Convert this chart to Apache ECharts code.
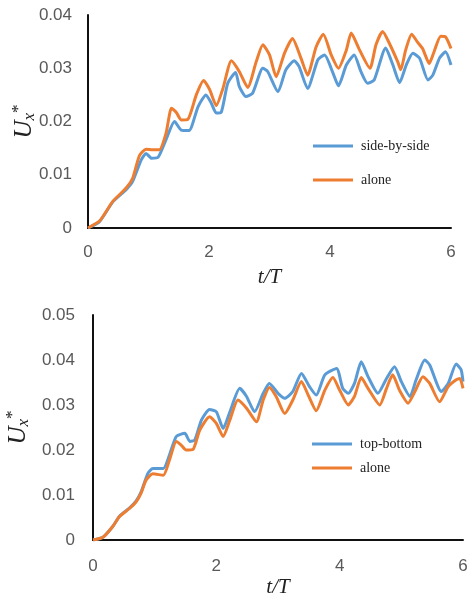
<!DOCTYPE html>
<html>
<head>
<meta charset="utf-8">
<script src="https://cdn.jsdelivr.net/npm/echarts@6/dist/echarts.min.js"></script>
<style>
  html, body { margin: 0; padding: 0; background: #fff; }
  #chart { width: 472px; height: 601px; }
</style>
</head>
<body>
<div id="chart"></div>
<script>
// top panel: side-by-side vs alone
var tTopBlue = [0, 0.19, 0.41, 0.63, 0.74, 0.88, 0.96, 1.05, 1.16, 1.29, 1.43, 1.54, 1.67, 1.82, 1.95, 2.04, 2.12, 2.20, 2.31, 2.44, 2.50, 2.61, 2.72, 2.89, 2.97, 3.14, 3.27, 3.41, 3.49, 3.63, 3.80, 3.91, 4.05, 4.14, 4.27, 4.40, 4.51, 4.62, 4.73, 4.92, 5.04, 5.15, 5.26, 5.37, 5.48, 5.62, 5.70, 5.81, 5.91, 6.0];
var uTopBlue = [0, 0.0012, 0.0049, 0.0072, 0.0088, 0.0128, 0.0140, 0.0131, 0.0133, 0.0166, 0.0200, 0.0184, 0.0183, 0.0228, 0.0250, 0.0234, 0.0216, 0.0217, 0.0272, 0.0292, 0.0266, 0.0247, 0.0253, 0.0300, 0.0294, 0.0256, 0.0297, 0.0314, 0.0303, 0.0262, 0.0316, 0.0325, 0.0291, 0.0267, 0.0306, 0.0325, 0.0294, 0.0272, 0.0278, 0.0338, 0.0306, 0.0273, 0.0306, 0.0328, 0.0319, 0.0278, 0.0287, 0.0319, 0.0331, 0.0306];
var tTopOrange = [0, 0.19, 0.41, 0.63, 0.74, 0.85, 0.96, 1.07, 1.18, 1.29, 1.38, 1.46, 1.54, 1.65, 1.79, 1.91, 2.01, 2.12, 2.23, 2.37, 2.50, 2.64, 2.78, 2.89, 3.0, 3.11, 3.25, 3.38, 3.52, 3.63, 3.77, 3.89, 4.02, 4.14, 4.27, 4.35, 4.49, 4.66, 4.76, 4.87, 4.98, 5.12, 5.17, 5.25, 5.35, 5.44, 5.53, 5.64, 5.72, 5.83, 5.91, 6.0];
var uTopOrange = [0, 0.0013, 0.0050, 0.0075, 0.0094, 0.0136, 0.0148, 0.0147, 0.0147, 0.0178, 0.0225, 0.0217, 0.0203, 0.0204, 0.0250, 0.0277, 0.0260, 0.0230, 0.0262, 0.0314, 0.0294, 0.0264, 0.0312, 0.0344, 0.0325, 0.0284, 0.0329, 0.0356, 0.0319, 0.0287, 0.0340, 0.0364, 0.0325, 0.0300, 0.0334, 0.0366, 0.0334, 0.0300, 0.0344, 0.0369, 0.0347, 0.0312, 0.0297, 0.0334, 0.0364, 0.0350, 0.0337, 0.0309, 0.0331, 0.0360, 0.0359, 0.0337];

// bottom panel: top-bottom vs alone
var tBotBlue = [0, 0.16, 0.32, 0.43, 0.59, 0.70, 0.78, 0.89, 0.97, 1.14, 1.24, 1.35, 1.49, 1.57, 1.65, 1.76, 1.89, 2.0, 2.11, 2.22, 2.38, 2.49, 2.62, 2.76, 2.86, 3.0, 3.11, 3.24, 3.38, 3.51, 3.62, 3.76, 3.95, 4.05, 4.14, 4.24, 4.35, 4.46, 4.62, 4.76, 4.89, 5.0, 5.14, 5.24, 5.38, 5.46, 5.65, 5.76, 5.89, 5.97, 6.0];
var uBotBlue = [0, 0.0006, 0.0030, 0.0053, 0.0071, 0.0087, 0.0107, 0.0148, 0.0159, 0.0159, 0.0189, 0.0230, 0.0237, 0.0219, 0.0222, 0.0267, 0.0290, 0.0285, 0.0248, 0.0285, 0.0337, 0.0319, 0.0285, 0.0326, 0.0348, 0.0326, 0.0315, 0.0330, 0.0370, 0.0341, 0.0322, 0.0367, 0.0381, 0.0337, 0.0326, 0.0348, 0.0396, 0.0363, 0.0326, 0.0359, 0.0385, 0.0352, 0.0319, 0.0356, 0.0400, 0.0389, 0.0330, 0.0348, 0.0391, 0.0378, 0.0352];
var tBotOrange = [0, 0.16, 0.32, 0.43, 0.59, 0.70, 0.78, 0.86, 0.97, 1.14, 1.24, 1.35, 1.43, 1.51, 1.62, 1.73, 1.89, 2.0, 2.11, 2.22, 2.35, 2.49, 2.65, 2.76, 2.86, 2.97, 3.11, 3.24, 3.38, 3.49, 3.62, 3.76, 3.89, 4.0, 4.14, 4.24, 4.35, 4.46, 4.65, 4.76, 4.86, 4.97, 5.11, 5.22, 5.35, 5.46, 5.62, 5.76, 5.89, 5.95, 6.0];
var uBotOrange = [0, 0.0006, 0.0030, 0.0052, 0.0070, 0.0085, 0.0104, 0.0133, 0.0147, 0.0144, 0.0178, 0.0219, 0.0211, 0.0200, 0.0201, 0.0244, 0.0274, 0.0259, 0.0230, 0.0267, 0.0311, 0.0293, 0.0263, 0.0311, 0.0339, 0.0319, 0.0281, 0.0311, 0.0352, 0.0322, 0.0287, 0.0333, 0.0361, 0.0333, 0.0300, 0.0319, 0.0361, 0.0337, 0.0300, 0.0337, 0.0367, 0.0333, 0.0304, 0.0330, 0.0363, 0.0348, 0.0307, 0.0341, 0.0356, 0.0359, 0.0337];

function pairs(t, u) {
  return t.map(function (x, i) { return [x, u[i]]; });
}

var blue = '#5B9BD5';
var orange = '#ED7D31';
var labelFont = { color: '#595959', fontSize: 17, fontFamily: 'Liberation Sans' };

function yName() {
  return {
    name: '{u|U}{sub|x}{sup|*}',
    nameLocation: 'middle',
    nameRotate: 90,
    nameMoveOverlap: false,
    nameTextStyle: {
      rich: {
        u: { fontSize: 25, fontStyle: 'italic', fontFamily: 'Liberation Serif', color: '#222', lineHeight: 28 },
        sub: { fontSize: 17, fontStyle: 'italic', fontFamily: 'Liberation Serif', color: '#222', verticalAlign: 'bottom', lineHeight: 28, padding: [8, 0, 0, 0] },
        sup: { fontSize: 17, fontFamily: 'Liberation Serif', color: '#222', verticalAlign: 'top', lineHeight: 28 }
      }
    }
  };
}

var myChart = echarts.init(document.getElementById('chart'));

myChart.setOption({
  backgroundColor: '#fff',
  animation: false,
  grid: [
    { left: 88, top: 15, width: 363, height: 213, outerBoundsMode: 'none', containLabel: false },
    { left: 93, top: 315, width: 370, height: 225, outerBoundsMode: 'none', containLabel: false }
  ],
  legend: [
    {
      data: ['side-by-side', 'alone'],
      orient: 'vertical',
      left: 308, top: 133,
      icon: 'rect', itemWidth: 40, itemHeight: 3, itemGap: 18,
      textStyle: { fontFamily: 'Liberation Serif', fontSize: 14, color: '#222', lineHeight: 16, padding: [0, 0, 0, 3] }
    },
    {
      data: ['top-bottom', 'alone '],
      orient: 'vertical',
      left: 307, top: 431,
      icon: 'rect', itemWidth: 40, itemHeight: 3, itemGap: 8,
      textStyle: { fontFamily: 'Liberation Serif', fontSize: 14, color: '#222', lineHeight: 16, padding: [0, 0, 0, 3] }
    }
  ],
  xAxis: [0, 1].map(function (g) {
    return {
      type: 'value', gridIndex: g, min: 0, max: 6, interval: 2,
      name: 't/T', nameLocation: 'middle', nameGap: g === 0 ? 39 : 37,
      nameTextStyle: { fontSize: 21, fontStyle: 'italic', fontFamily: 'Liberation Serif', color: '#222' },
      axisLine: { show: true, lineStyle: { color: '#111', width: 2 } },
      axisTick: { show: false },
      splitLine: { show: false },
      axisLabel: Object.assign({ margin: g === 0 ? 16 : 18 }, labelFont)
    };
  }),
  yAxis: [0, 1].map(function (g) {
    return Object.assign(yName(), {
      type: 'value', gridIndex: g, min: 0, max: g === 0 ? 0.04 : 0.05, interval: 0.01,
      nameGap: g === 0 ? 50 : 61,
      axisLine: { show: true, lineStyle: { color: '#111', width: 2 } },
      axisTick: { show: false },
      splitLine: { show: false },
      axisLabel: Object.assign({ margin: g === 0 ? 16 : 18 }, labelFont)
    });
  }),
  series: [
    { name: 'side-by-side', type: 'line', xAxisIndex: 0, yAxisIndex: 0, data: pairs(tTopBlue, uTopBlue) },
    { name: 'alone', type: 'line', xAxisIndex: 0, yAxisIndex: 0, data: pairs(tTopOrange, uTopOrange) },
    { name: 'top-bottom', type: 'line', xAxisIndex: 1, yAxisIndex: 1, data: pairs(tBotBlue, uBotBlue) },
    { name: 'alone ', type: 'line', xAxisIndex: 1, yAxisIndex: 1, data: pairs(tBotOrange, uBotOrange) }
  ].map(function (s) {
    var c = s.name.indexOf('alone') === 0 ? orange : blue;
    return Object.assign(s, {
      showSymbol: false, symbol: 'none', smooth: 0.2,
      color: c,
      lineStyle: { color: c, width: 3 }
    });
  })
});
</script>
</body>
</html>
